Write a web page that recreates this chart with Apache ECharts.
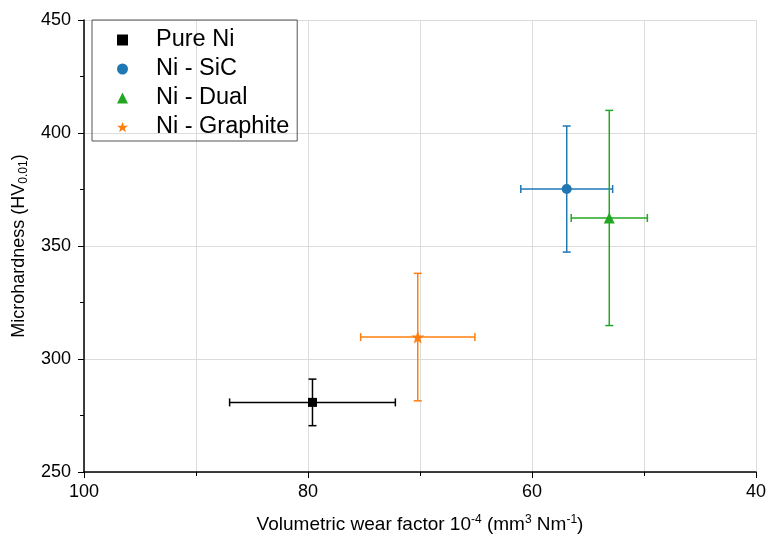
<!DOCTYPE html>
<html>
<head>
<meta charset="utf-8">
<script src="https://cdn.jsdelivr.net/npm/echarts@6/dist/echarts.min.js"></script>
<style>
  html, body { margin: 0; padding: 0; background: #fff; }
  #chart { width: 766px; height: 540px; }
</style>
</head>
<body>
<div id="chart"></div>
<script>
  // values
  const seriesNames = ['Pure Ni', 'Ni - SiC', 'Ni - Dual', 'Ni - Graphite']
  const wearFactor = [79.6, 56.9, 53.1, 70.2]
  const wearErr = [7.4, 4.1, 3.4, 5.1]
  const hardness = [280.8, 375.2, 362.4, 309.7]
  const hardnessErr = [10.3, 27.9, 47.6, 28.2]
  const colors = ['#000000', '#1f77b4', '#22a722', '#ff7f0e']
  const symbols = [
    'rect',
    'circle',
    'triangle',
    'path://M0,-10 L2.35,-3.24 9.51,-3.09 3.8,1.24 5.88,8.09 0,4 -5.88,8.09 -3.8,1.24 -9.51,-3.09 -2.35,-3.24Z'
  ]
  const symbolSizes = [9, 10, 11, 13]

  const font = 'Liberation Sans, Arial, sans-serif'
  let chart = echarts.init(document.getElementById('chart'))

  function errorBarRender(params, api) {
    let x = api.value(0)
    let y = api.value(1)
    let dx = api.value(2)
    let dy = api.value(3)
    let left = api.coord([x + dx, y])
    let right = api.coord([x - dx, y])
    let top = api.coord([x, y + dy])
    let bottom = api.coord([x, y - dy])
    let cap = 4
    let style = {stroke: api.visual('color'), lineWidth: 1.5}
    let line = (x1, y1, x2, y2) => ({type: 'line', shape: {x1: x1, y1: y1, x2: x2, y2: y2}, style: style})
    return {
      type: 'group',
      children: [
        line(left[0], left[1], right[0], right[1]),
        line(left[0], left[1] - cap, left[0], left[1] + cap),
        line(right[0], right[1] - cap, right[0], right[1] + cap),
        line(top[0], top[1], bottom[0], bottom[1]),
        line(top[0] - cap, top[1], top[0] + cap, top[1]),
        line(bottom[0] - cap, bottom[1], bottom[0] + cap, bottom[1])
      ]
    }
  }

  let series = []
  seriesNames.forEach((name, i) => {
    series.push({
      name: name + ' err',
      type: 'custom',
      renderItem: errorBarRender,
      itemStyle: {color: colors[i]},
      data: [[wearFactor[i], hardness[i], wearErr[i], hardnessErr[i]]],
      z: 2,
      silent: true
    })
    series.push({
      name: name,
      type: 'scatter',
      symbol: symbols[i],
      symbolSize: symbolSizes[i],
      itemStyle: {color: colors[i], opacity: 1},
      data: [[wearFactor[i], hardness[i]]],
      z: 3
    })
  })

  let option = {
    animation: false,
    textStyle: {fontFamily: font},
    grid: {left: 84, right: 10, top: 20, bottom: 68, outerBoundsMode: 'none'},
    legend: {
      data: seriesNames,
      orient: 'vertical',
      left: 92,
      top: 20,
      padding: [8, 8, 2, 25],
      itemGap: 5,
      itemWidth: 11,
      itemHeight: 11,
      borderColor: '#555',
      borderWidth: 1,
      textStyle: {fontFamily: font, fontSize: 23.5, color: '#000', lineHeight: 24, padding: [0, 0, 0, 23]}
    },
    xAxis: {
      type: 'value',
      inverse: true,
      min: 40,
      max: 100,
      interval: 20,
      name: 'Volumetric wear factor 10{sup|-4} (mm{sup|3} Nm{sup|-1})',
      nameLocation: 'middle',
      nameGap: 42,
      nameTextStyle: {
        fontFamily: font, fontSize: 19, color: '#000',
        rich: {sup: {fontFamily: font, fontSize: 12, color: '#000', padding: [0, 0, 10, 0]}}
      },
      axisLine: {lineStyle: {color: '#000', width: 1.5}},
      axisTick: {length: 6, lineStyle: {color: '#000'}},
      minorTick: {show: true, splitNumber: 2, length: 4, lineStyle: {color: '#000'}},
      splitLine: {show: true, lineStyle: {color: '#dcdcdc'}},
      minorSplitLine: {show: true, lineStyle: {color: '#dcdcdc'}},
      axisLabel: {fontFamily: font, fontSize: 18, color: '#000', margin: 11}
    },
    yAxis: {
      type: 'value',
      min: 250,
      max: 450,
      interval: 50,
      name: 'Microhardness (HV{sub|0.01})',
      nameLocation: 'middle',
      nameGap: 51,
      nameTextStyle: {
        fontFamily: font, fontSize: 18, color: '#000',
        rich: {sub: {fontFamily: font, fontSize: 12, color: '#000', padding: [10, 0, 0, 0]}}
      },
      axisLine: {show: true, lineStyle: {color: '#000', width: 1.5}},
      axisTick: {show: true, length: 6, lineStyle: {color: '#000'}},
      minorTick: {show: true, splitNumber: 2, length: 4, lineStyle: {color: '#000'}},
      splitLine: {show: true, lineStyle: {color: '#dcdcdc'}},
      axisLabel: {fontFamily: font, fontSize: 18, color: '#000', margin: 13}
    },
    series: series
  }
  chart.setOption(option)
</script>
</body>
</html>
